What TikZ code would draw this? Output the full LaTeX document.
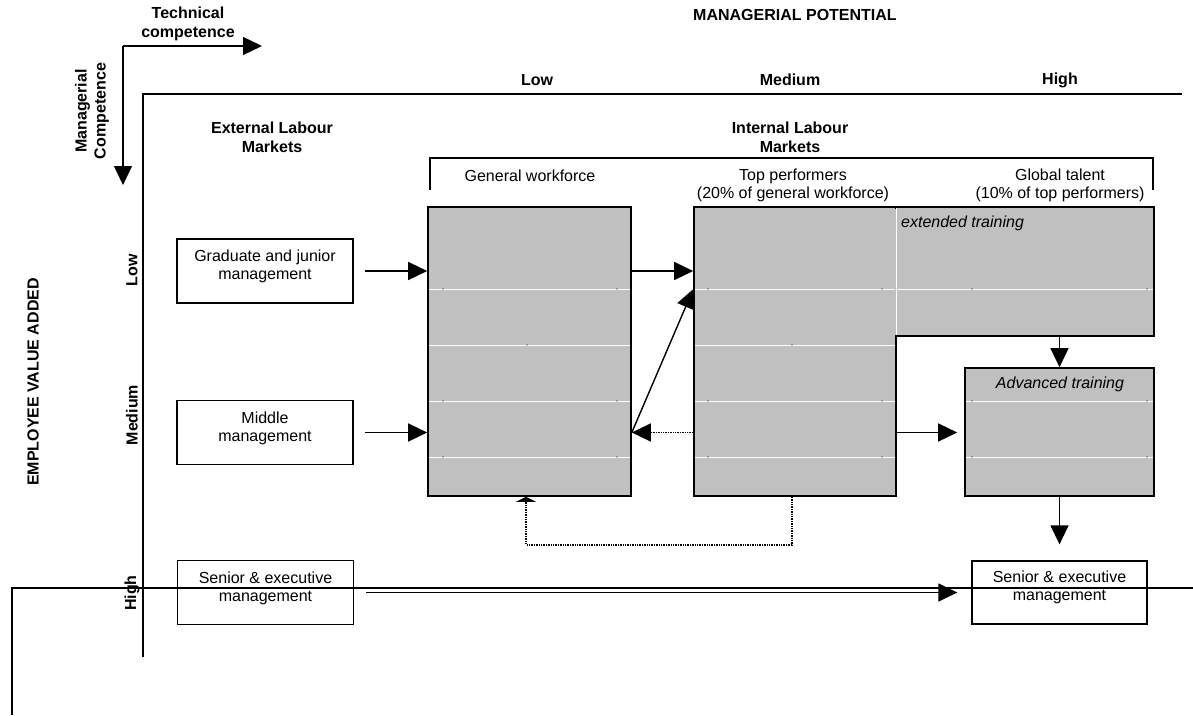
\documentclass[tikz,border=0pt]{standalone}
\usepackage{fontspec}
\setmainfont{Liberation Sans}
\usetikzlibrary{arrows.meta,calc}
\definecolor{cellgray}{HTML}{C0C0C0}
\begin{document}
\begin{tikzpicture}[x=1pt,y=-1pt,
  >={Triangle[length=19pt,width=18pt]},
  txt/.style={font=\fontsize{16}{18}\selectfont, align=center, inner sep=0pt},
  btxt/.style={font=\fontsize{16}{19}\bfseries\selectfont, align=center, inner sep=0pt},
  itxt/.style={font=\fontsize{16}{18}\itshape\selectfont, inner sep=0pt},
  frame/.style={line width=1.3pt},
  arr/.style={line width=1.4pt},
  wbox/.style={draw, line width=1.3pt, minimum width=176pt, minimum height=64pt, inner sep=0pt},
  gbox/.style={draw, line width=1.6pt, fill=cellgray, inner sep=0pt},
  wline/.style={white, line width=1pt},
  dotmark/.style={fill=black}]
\useasboundingbox (0,0) rectangle (1193,715);

% titles and axes
\node[btxt] (mp) at (795,15) {MANAGERIAL POTENTIAL};
\node[btxt] (tc) at (188,24) {Technical\\competence};
\node[btxt, rotate=90] (mc) at (92,111) {Managerial\\Competence};
\coordinate (corner) at (123,46);
\coordinate (tcend) at (262,46);
\coordinate (mcend) at (123,185);
\draw[arr,->] (corner) -- (tcend);
\draw[arr,->] (corner) -- (mcend);

\node[btxt] (cl) at (537,80) {Low};
\node[btxt] (cm) at (790,80) {Medium};
\node[btxt] (ch) at (1060,80) {High};

\coordinate (f1) at (143,657);
\coordinate (f2) at (143,94);
\coordinate (f3) at (1182,94);
\draw[frame] (f1) -- (f2) -- (f3);

\node[btxt] (extl) at (272,137) {External Labour\\Markets};
\node[btxt] (intl) at (790,137) {Internal Labour\\Markets};

\coordinate (b1) at (430,190);
\coordinate (b2) at (430,158);
\coordinate (b3) at (1153,158);
\coordinate (b4) at (1153,190);
\draw[frame] (b1) -- (b2) -- (b3) -- (b4);

\node[txt] (gwl) at (530,176) {General workforce};
\node[txt] (tpl) at (793,185) {Top performers\\(20\% of general workforce)};
\node[txt] (gtl) at (1060,185) {Global talent\\(10\% of top performers)};

\node[btxt, rotate=90] (rl) at (132,270) {Low};
\node[btxt, rotate=90] (rm) at (132,415) {Medium};
\node[btxt, rotate=90] (rh) at (132,593) {High};
\node[btxt, rotate=90] (eva) at (33,382) {EMPLOYEE VALUE ADDED};

% left boxes
\node[wbox] (grad) at (265,271) {};
\node[txt] (gradt) at (265,266) {Graduate and junior\\management};
\node[wbox] (mid) at (265,432.5) {};
\node[txt] (midt) at (265,428) {Middle\\management};
\node[wbox] (srL) at (265.5,592.5) {};
\node[txt] (srLt) at (265.5,588) {Senior \& executive\\management};
\node[wbox, minimum width=175pt, minimum height=63pt] (srR) at (1059.5,592.5) {};
\node[txt] (srRt) at (1059.5,587.5) {Senior \& executive\\management};

% gray boxes
\node[gbox, minimum width=203pt, minimum height=289pt] (gw) at (529.5,351.5) {};
\node[gbox, minimum width=202pt, minimum height=289pt] (tp) at (795,351.5) {};
\node[gbox, minimum width=258pt, minimum height=129pt] (et) at (1025,271.5) {};
\node[gbox, minimum width=189pt, minimum height=128pt] (adv) at (1059.5,432) {};
\draw[cellgray, line width=1.8pt] (896,208.6) -- (896,335.2);
\draw[white, line width=1pt] (896,207.5) -- (896,335.2);

\foreach \y in {289,345,401,457} {
  \draw[wline] (429,\y) -- (630.2,\y);
  \draw[wline] (694.8,\y) -- (895.2,\y);
}
\draw[wline] (896.8,289) -- (1153.2,289);
\foreach \y in {401,457} \draw[wline] (965.8,\y) -- (1153.2,\y);
\foreach \y in {289,401,457} {
  \fill[dotmark] (443,\y) circle (0.7);
  \fill[dotmark] (617,\y) circle (0.7);
  \fill[dotmark] (708,\y) circle (0.7);
  \fill[dotmark] (882,\y) circle (0.7);
  \fill[dotmark] (972,\y) circle (0.7);
  \fill[dotmark] (1147,\y) circle (0.7);
}
\fill[dotmark] (527,345) circle (0.7);
\fill[dotmark] (792,345) circle (0.7);

\node[itxt, anchor=west] (ett) at (901,223) {extended training};
\node[itxt] (advt) at (1060,384) {Advanced training};

% connectors
\draw[arr,->, shorten <=11pt] (grad.east) -- (gw.west |- grad);
\draw[arr,->, shorten <=11pt] (mid.east) -- (gw.west |- mid);
\draw[arr,->] (gw.east |- grad) -- (tp.west |- grad);
\draw[arr,->] (gw.east |- mid) -- ([yshift=-83pt]tp.north west);
\draw[arr,densely dotted,->] (tp.west |- mid) -- (gw.east |- mid);
\draw[arr,->, shorten >=7pt] (tp.east |- mid) -- (adv.west |- mid);
\draw[arr,->] (adv.north |- et.south) -- (adv.north);
\draw[arr,->, shorten >=16pt] (adv.south) -- (srR.north);
\draw[arr,->, shorten <=12pt, shorten >=14pt] (srL.east) -- (srR.west |- srL.east);
\draw[arr, densely dotted, -{Triangle[length=5pt,width=20pt]}] ([xshift=-3pt]tp.south) -- ++(0,48) -| ([xshift=-3.5pt]gw.south);

% long line
\coordinate (l1) at (12,715);
\coordinate (l2) at (12,588);
\coordinate (l3) at (1193,588);
\draw[frame] (l1) -- (l2) -- (l3);
\end{tikzpicture}
\end{document}
